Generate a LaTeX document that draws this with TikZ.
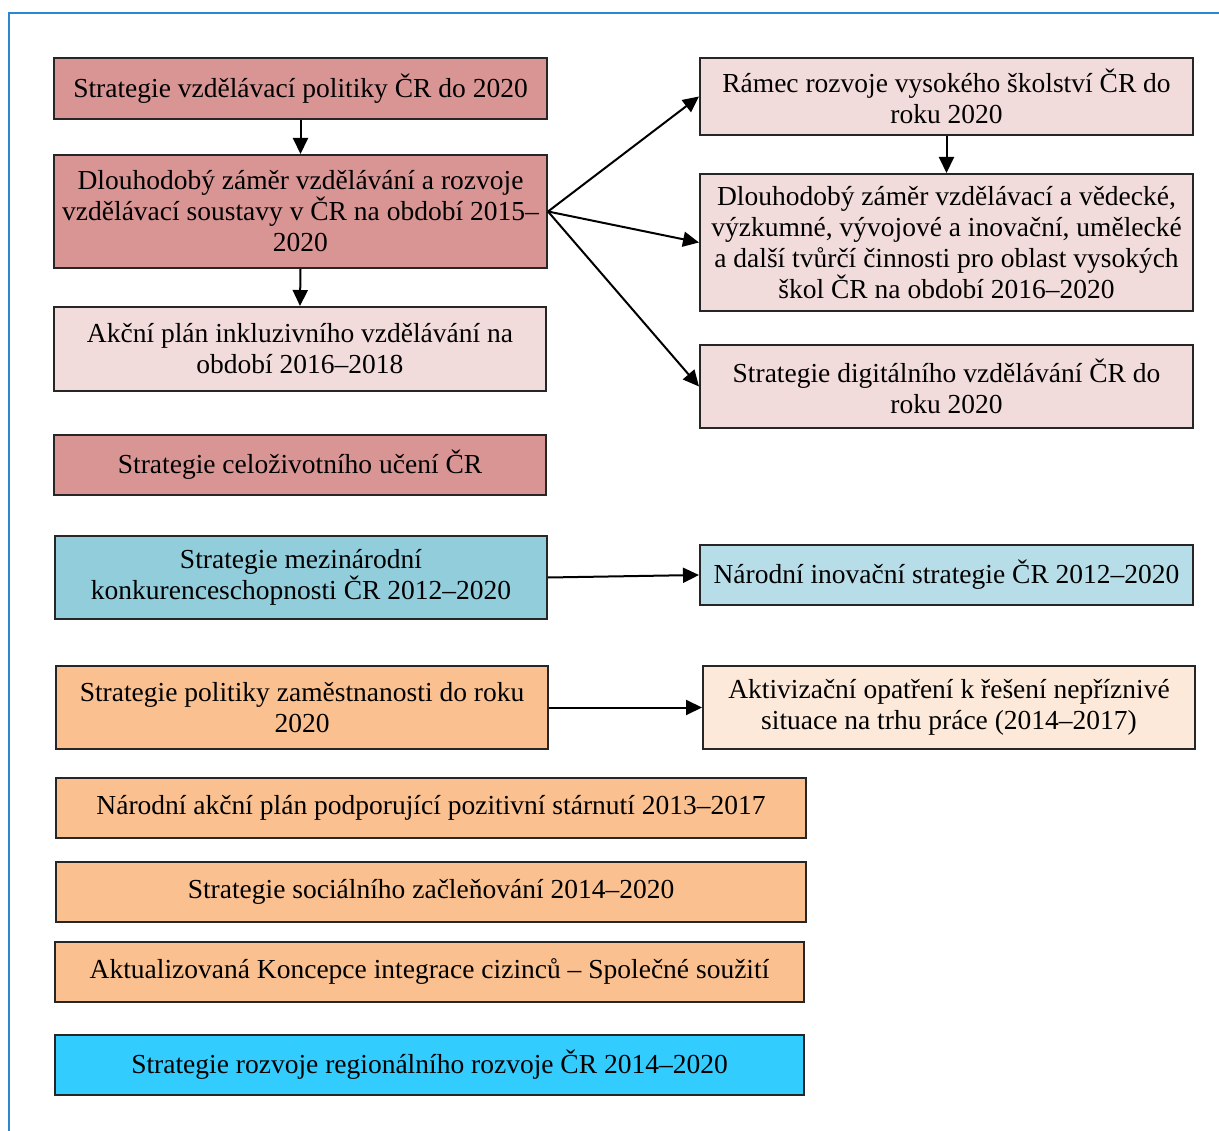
\documentclass[tikz,border=0pt]{standalone}
\usepackage{fontspec}
\setmainfont{Liberation Serif}
\usetikzlibrary{arrows.meta}
\definecolor{frameblue}{RGB}{46,134,209}
\definecolor{redA}{RGB}{217,149,148}
\definecolor{pinkA}{RGB}{242,220,219}
\definecolor{aquaA}{RGB}{146,205,220}
\definecolor{aquaB}{RGB}{183,222,232}
\definecolor{orangeA}{RGB}{250,192,144}
\definecolor{orangeB}{RGB}{253,233,217}
\definecolor{cyanA}{RGB}{51,204,255}
\tikzset{
  box/.style={draw=black!85, line width=2pt, rectangle, inner sep=0pt, align=center,
    font=\fontsize{27.5}{31}\selectfont},
  arr/.style={line width=2pt, -{Triangle[length=16pt,width=15pt]}},
}
\begin{document}
\begin{tikzpicture}[x=1pt,y=-1pt]
\useasboundingbox (0,0) rectangle (1219,1131);
\draw[frameblue, line width=2pt] (9,1131) -- (9,13) -- (1219,13);
% left column
\node[box, fill=redA, minimum width=493pt, minimum height=61pt] (A) at (300.5,88.5)
  {Strategie vzdělávací politiky ČR do 2020};
\node[box, fill=redA, minimum width=493pt, minimum height=113pt] (B) at (300.5,211.5)
  {Dlouhodobý záměr vzdělávání a rozvoje\\vzdělávací soustavy v ČR na období 2015–\\2020};
\node[box, fill=pinkA, minimum width=492pt, minimum height=84pt] (C) at (300,349)
  {Akční plán inkluzivního vzdělávání na\\období 2016–2018};
\node[box, fill=redA, minimum width=492pt, minimum height=60pt] (D) at (300,465)
  {Strategie celoživotního učení ČR};
\node[box, fill=aquaA, minimum width=492pt, minimum height=83pt] (E) at (301,577.5)
  {Strategie mezinárodní\\konkurenceschopnosti ČR 2012–2020};
\node[box, fill=orangeA, minimum width=492pt, minimum height=83pt] (F) at (302,707.5)
  {Strategie politiky zaměstnanosti do roku\\2020};
\node[box, fill=orangeA, minimum width=750pt, minimum height=60pt] (G) at (431,808)
  {Národní akční plán podporující pozitivní stárnutí 2013–2017};
\node[box, fill=orangeA, minimum width=750pt, minimum height=60pt] (H) at (431,892)
  {Strategie sociálního začleňování 2014–2020};
\node[box, fill=orangeA, minimum width=749pt, minimum height=60pt] (I) at (429.5,972)
  {Aktualizovaná Koncepce integrace cizinců – Společné soužití};
\node[box, fill=cyanA, minimum width=749pt, minimum height=60pt] (J) at (429.5,1065)
  {Strategie rozvoje regionálního rozvoje ČR 2014–2020};
% right column
\node[box, fill=pinkA, minimum width=493pt, minimum height=77pt] (K) at (946.5,96.5)
  {Rámec rozvoje vysokého školství ČR do\\roku 2020};
\node[box, fill=pinkA, minimum width=493pt, minimum height=137pt] (L) at (946.5,242.5)
  {Dlouhodobý záměr vzdělávací a vědecké,\\výzkumné, vývojové a inovační, umělecké\\a další tvůrčí činnosti pro oblast vysokých\\škol ČR na období 2016–2020};
\node[box, fill=pinkA, minimum width=493pt, minimum height=83pt] (M) at (946.5,386.5)
  {Strategie digitálního vzdělávání ČR do\\roku 2020};
\node[box, fill=aquaB, minimum width=493pt, minimum height=60pt] (N) at (946.5,575)
  {Národní inovační strategie ČR 2012–2020};
\node[box, fill=orangeB, minimum width=492pt, minimum height=83pt] (O) at (949,707.5)
  {Aktivizační opatření k řešení nepříznivé\\situace na trhu práce (2014–2017)};
% arrows
\draw[arr] (A.south) -- (B.north);
\draw[arr] (B.south) -- (C.north);
\draw[arr] (K.south) -- (L.north);
\draw[arr] (B.east) -- (K.west);
\draw[arr] (B.east) -- (L.west);
\draw[arr] (B.east) -- (M.west);
\draw[arr] (E.east) -- (N.west);
\draw[arr] (F.east) -- (O.west);
\end{tikzpicture}
\end{document}
